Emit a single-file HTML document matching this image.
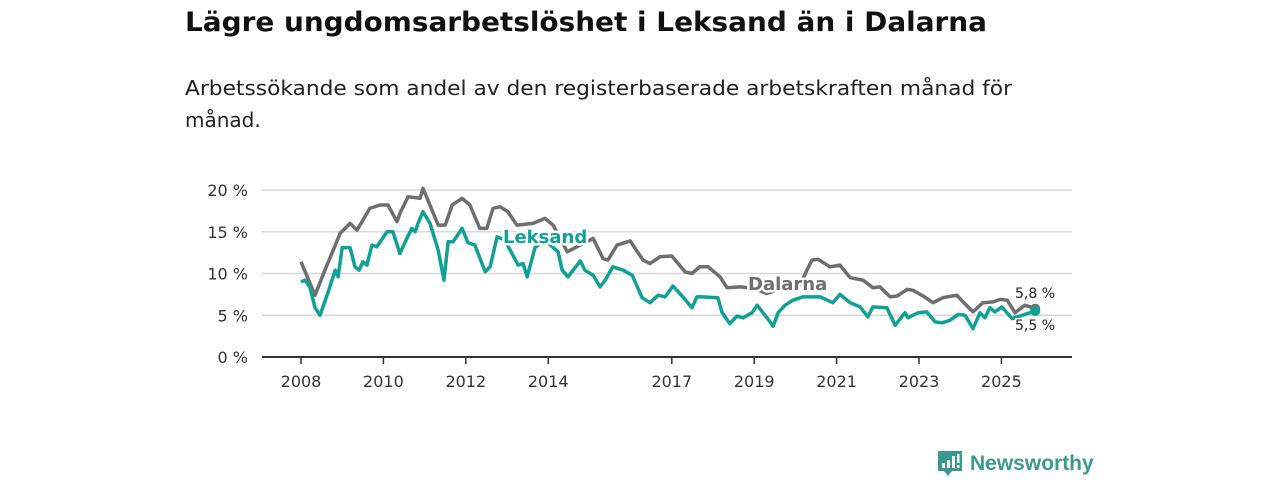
<!DOCTYPE html>
<html><head><meta charset="utf-8"><style>
html,body{margin:0;padding:0;background:#fff;width:1280px;height:480px;overflow:hidden}
svg{display:block;font-family:"DejaVu Sans","Liberation Sans",sans-serif}
</style></head><body>
<svg id="chart" width="1280" height="480">
<text x="185" y="31" font-size="27" font-weight="bold" fill="#111" textLength="802" lengthAdjust="spacingAndGlyphs">Lägre ungdomsarbetslöshet i Leksand än i Dalarna</text>
<text x="185" y="95" font-size="20" fill="#222" textLength="827" lengthAdjust="spacingAndGlyphs">Arbetssökande som andel av den registerbaserade arbetskraften månad för</text>
<text x="185" y="127" font-size="20" fill="#222">månad.</text>
<g id="grid"></g><g id="axes"></g><g id="series"></g><g id="labels"></g>
<g>
<path d="M938 451h24v20h-10l-4 5-4-5h-6z" fill="#3a9a8f"/>
<rect x="942" y="463" width="3" height="5" fill="#fff"/><rect x="947" y="460" width="3" height="8" fill="#fff"/><rect x="952" y="456" width="3" height="12" fill="#fff"/><rect x="957" y="454" width="2.5" height="9" fill="#fff"/><rect x="957" y="465" width="2.5" height="3" fill="#fff"/>
<text x="970" y="470" font-size="21" font-weight="bold" fill="#3a9a8f" font-family="Liberation Sans, sans-serif">Newsworthy</text>
</g>
</svg>
<script>
const yTicks=[0,5,10,15,20];
const xTickYears=[2008,2010,2012,2014,2017,2019,2021,2023,2025];
const dalYears=[2008.0,2008.34,2008.58,2008.95,2009.19,2009.36,2009.67,2009.92,2010.11,2010.33,2010.40,2010.60,2010.89,2010.96,2011.33,2011.50,2011.67,2011.91,2012.10,2012.34,2012.51,2012.66,2012.83,2013.02,2013.24,2013.63,2013.92,2014.12,2014.46,2015.09,2015.33,2015.45,2015.67,2015.99,2016.30,2016.47,2016.71,2017.0,2017.32,2017.49,2017.68,2017.88,2018.17,2018.34,2018.66,2019.0,2019.3,2019.7,2020.11,2020.28,2020.40,2020.55,2020.84,2021.08,2021.33,2021.64,2021.88,2022.05,2022.30,2022.47,2022.71,2022.85,2023.10,2023.34,2023.58,2023.92,2024.07,2024.31,2024.55,2024.80,2024.97,2025.14,2025.33,2025.57,2025.82];
const dalValues=[11.4,7.4,10.4,14.8,16,15.2,17.8,18.2,18.2,16.2,17.2,19.2,19,20.2,15.8,15.8,18.2,19,18.2,15.4,15.4,17.8,18,17.4,15.8,16,16.6,15.8,12.6,14.2,11.8,11.6,13.4,13.9,11.6,11.2,12,12.1,10.2,10,10.8,10.8,9.6,8.3,8.4,8.2,7.6,8.2,8.6,10.4,11.6,11.7,10.8,11,9.5,9.2,8.3,8.4,7.2,7.3,8.1,8,7.3,6.5,7.1,7.4,6.6,5.4,6.5,6.6,6.9,6.8,5.3,6.2,5.8];
const lekYears=[2008.0,2008.10,2008.22,2008.34,2008.46,2008.66,2008.83,2008.90,2009.0,2009.19,2009.31,2009.41,2009.50,2009.60,2009.72,2009.84,2010.09,2010.23,2010.40,2010.57,2010.69,2010.77,2010.84,2010.96,2011.13,2011.33,2011.47,2011.57,2011.69,2011.91,2012.05,2012.22,2012.47,2012.59,2012.76,2012.95,2013.27,2013.39,2013.49,2013.68,2013.92,2014.24,2014.34,2014.48,2014.78,2014.89,2015.09,2015.26,2015.38,2015.57,2015.82,2016.04,2016.28,2016.47,2016.67,2016.84,2017.03,2017.27,2017.49,2017.61,2017.73,2018.12,2018.22,2018.41,2018.58,2018.73,2018.95,2019.07,2019.31,2019.46,2019.58,2019.75,2019.94,2020.18,2020.60,2020.91,2021.08,2021.33,2021.57,2021.76,2021.88,2022.22,2022.42,2022.66,2022.73,2022.98,2023.19,2023.39,2023.56,2023.75,2023.95,2024.12,2024.31,2024.48,2024.60,2024.72,2024.84,2025.01,2025.26,2025.82];
const lekValues=[9.0,9.2,8.3,5.9,5.0,7.8,10.4,9.6,13.1,13.1,10.8,10.4,11.4,11,13.4,13.2,15,15,12.4,14.2,15.4,15,16,17.4,16,12.8,9.2,13.8,13.8,15.4,13.7,13.4,10.2,10.8,14.4,14,11,11.2,9.6,13.1,14,12.6,10.4,9.6,11.5,10.4,9.8,8.4,9.2,10.8,10.4,9.8,7.1,6.5,7.4,7.2,8.5,7.2,5.9,7.2,7.2,7.1,5.3,4.0,4.9,4.7,5.3,6.2,4.7,3.7,5.3,6.2,6.8,7.2,7.2,6.5,7.5,6.5,6.0,4.8,6.0,5.9,3.8,5.3,4.7,5.3,5.4,4.2,4.1,4.4,5.1,5.0,3.4,5.3,4.7,5.9,5.4,6.0,4.6,5.5];
const NS="http://www.w3.org/2000/svg";
const X=y=>301+(y-2008)*41.2;
const Y=v=>357-v*8.35;
function mk(tag,attrs,parent,txt){const e=document.createElementNS(NS,tag);for(const k in attrs)e.setAttribute(k,attrs[k]);if(txt!==undefined)e.textContent=txt;parent.appendChild(e);return e;}
const grid=document.getElementById('grid'),axes=document.getElementById('axes'),ser=document.getElementById('series'),lab=document.getElementById('labels');
yTicks.forEach(t=>{
  const l=mk('line',{x1:262,x2:1072,y1:Y(t),y2:Y(t),stroke:t===0?'#333':'#d9d9d9','stroke-width':t===0?2:1.5},grid);
  
  
  const tx=mk('text',{x:248,y:Y(t)+6,'font-size':16,fill:'#333','text-anchor':'end'},axes,t+' %');
  
  
});
xTickYears.forEach(yr=>{
  const l=mk('line',{x1:X(yr),x2:X(yr),y1:357,y2:364,stroke:'#333','stroke-width':1.5},axes);
  
  
  const tx=mk('text',{x:X(yr),y:387,'font-size':16,fill:'#333','text-anchor':'middle'},axes,String(yr));
  
  
});
function line(ys,vs,color,name){
  const d=ys.map((y,i)=>(i?'L':'M')+X(y).toFixed(1)+' '+Y(vs[i]).toFixed(1)).join(' ');
  const p=mk('path',{d:d,fill:'none',stroke:color,'stroke-width':3.5,'stroke-linejoin':'round'},ser);
  
  
}
line(dalYears,dalValues,'#6e6d72','dalarna-line');
line(lekYears,lekValues,'#10a196','leksand-line');
const dd=mk('circle',{cx:X(dalYears[dalYears.length-1]),cy:Y(dalValues[dalValues.length-1]),r:5,fill:'#6e6d72'},ser);


const ld=mk('circle',{cx:X(lekYears[lekYears.length-1]),cy:Y(lekValues[lekValues.length-1]),r:5,fill:'#10a196'},ser);


function label(x,y,txt,color,name){
  const t=mk('text',{x:x,y:y,'font-size':18,'font-weight':'bold',fill:color,stroke:'#fff','stroke-width':5,'paint-order':'stroke'},lab,txt);
  
  
}
label(503,243,'Leksand','#10a196','leksand-label');
label(748,290,'Dalarna','#6e6d72','dalarna-label');
const e1=mk('text',{x:1015,y:298,'font-size':14,fill:'#222',stroke:'#fff','stroke-width':3,'paint-order':'stroke'},lab,'5,8 %');


const e2=mk('text',{x:1015,y:330,'font-size':14,fill:'#222',stroke:'#fff','stroke-width':3,'paint-order':'stroke'},lab,'5,5 %');


</script>
</body></html>
